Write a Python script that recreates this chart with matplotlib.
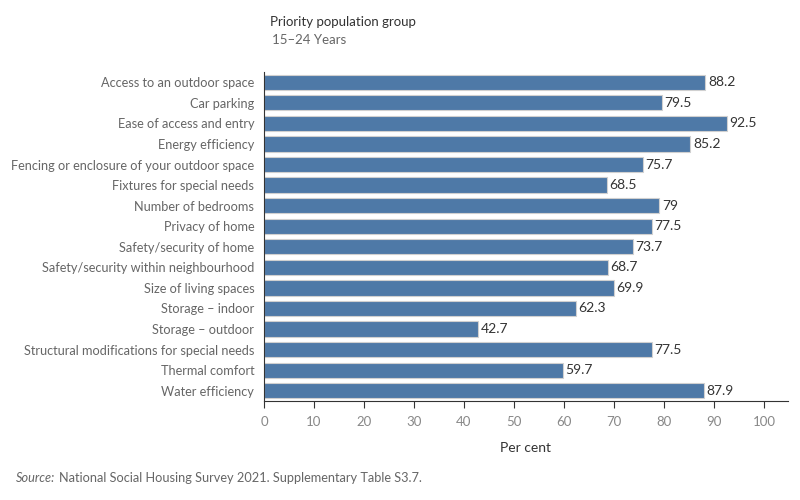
import matplotlib
matplotlib.use('Agg')
import matplotlib.pyplot as plt

plt.rcParams['font.family'] = ['Lato', 'DejaVu Sans']

categories = ['Access to an outdoor space', 'Car parking', 'Ease of access and entry',
              'Energy efficiency', 'Fencing or enclosure of your outdoor space',
              'Fixtures for special needs', 'Number of bedrooms', 'Privacy of home',
              'Safety/security of home', 'Safety/security within neighbourhood',
              'Size of living spaces', 'Storage \u2013 indoor', 'Storage \u2013 outdoor',
              'Structural modifications for special needs', 'Thermal comfort',
              'Water efficiency']
values = [88.2, 79.5, 92.5, 85.2, 75.7, 68.5, 79, 77.5, 73.7, 68.7, 69.9, 62.3,
          42.7, 77.5, 59.7, 87.9]
labels = ['88.2', '79.5', '92.5', '85.2', '75.7', '68.5', '79', '77.5', '73.7',
          '68.7', '69.9', '62.3', '42.7', '77.5', '59.7', '87.9']
xticks = [0, 10, 20, 30, 40, 50, 60, 70, 80, 90, 100]

grey = '#666666'
fig = plt.figure(figsize=(8, 5), dpi=100)
ax = fig.add_axes([0.33, 0.198, 0.655, 0.658])

ypos = list(range(len(categories)))
ax.barh(ypos, values, height=0.74, color='#4e79a7', edgecolor='#d0d0d0', linewidth=0.8)
for y, v, lab in zip(ypos, values, labels):
    ax.text(v + 0.6, y, lab, va='center', ha='left', fontsize=10, color='#333333')

ax.set_ylim(len(categories) - 0.5, -0.5)
ax.set_xlim(0, 104.8)
ax.set_yticks(ypos)
ax.set_yticklabels(categories, fontsize=9.2, color=grey)
ax.set_xticks(xticks)
ax.set_xticklabels([str(t) for t in xticks], fontsize=9.5, color='#888888')
ax.tick_params(axis='y', length=0, pad=7)
ax.tick_params(axis='x', length=5, width=0.8, color='#333333', pad=6)
for s in ['top', 'right']:
    ax.spines[s].set_visible(False)
ax.spines['left'].set_color('#333333')
ax.spines['bottom'].set_color('#333333')
ax.set_xlabel('Per cent', fontsize=10, color='#333333', labelpad=10)

fig.text(0.3375, 0.955, 'Priority population group', fontsize=9.5, color='#333333', va='center')
fig.text(0.34, 0.92, '15\u201324 Years', fontsize=9.5, color=grey, va='center')
fig.text(0.02, 0.045, 'Source:', fontsize=9.2, color=grey, style='italic', va='center')
fig.text(0.074, 0.045, 'National Social Housing Survey 2021. Supplementary Table S3.7.',
         fontsize=9.2, color=grey, va='center')

fig.savefig('out.png', dpi=100)
